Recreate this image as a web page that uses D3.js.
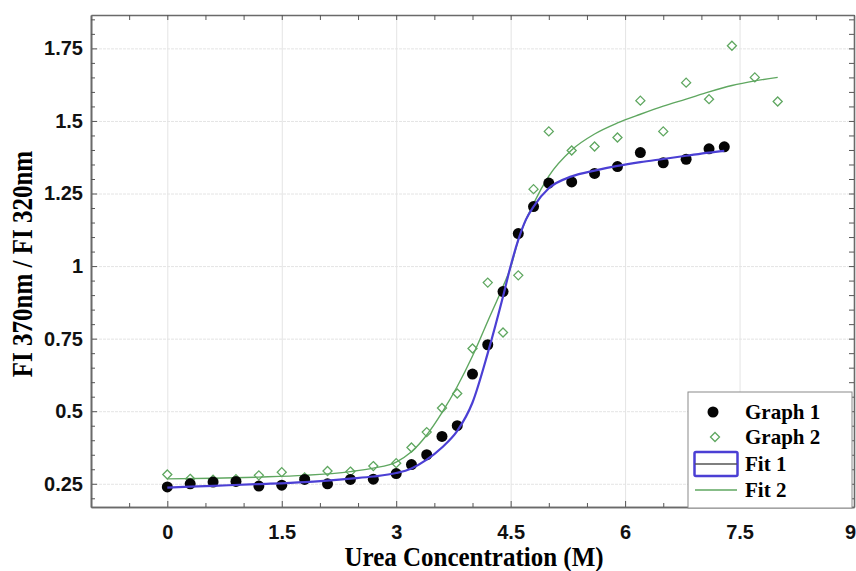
<!DOCTYPE html>
<html>
<head>
<meta charset="utf-8">
<script src="https://cdn.jsdelivr.net/npm/d3@7"></script>
<style>
  body { margin: 0; background: #fff; }
  svg { display: block; font-family: "Liberation Serif", "Times New Roman", serif; }
  .tick text { font-weight: bold; font-size: 20px; fill: #111; }
</style>
</head>
<body>
<div class="chart"></div>
<script>
// urea concentration (M) for each data set
const graph1X = [0, 0.3, 0.6, 0.9, 1.2, 1.5, 1.8, 2.1, 2.4, 2.7, 3.0, 3.2, 3.4, 3.6, 3.8, 4.0, 4.2, 4.4, 4.6, 4.8, 5.0, 5.3, 5.6, 5.9, 6.2, 6.5, 6.8, 7.1, 7.3];
const graph1Y = [0.239, 0.250, 0.256, 0.258, 0.242, 0.245, 0.265, 0.250, 0.265, 0.266, 0.285, 0.316, 0.350, 0.413, 0.450, 0.628, 0.729, 0.912, 1.112, 1.205, 1.286, 1.290, 1.319, 1.343, 1.391, 1.356, 1.368, 1.404, 1.411];

const graph2X = [0, 0.3, 0.6, 0.9, 1.2, 1.5, 1.8, 2.1, 2.4, 2.7, 3.0, 3.2, 3.4, 3.6, 3.8, 4.0, 4.2, 4.4, 4.6, 4.8, 5.0, 5.3, 5.6, 5.9, 6.2, 6.5, 6.8, 7.1, 7.4, 7.7, 8.0];
const graph2Y = [0.282, 0.267, 0.264, 0.266, 0.279, 0.290, 0.272, 0.294, 0.292, 0.311, 0.321, 0.375, 0.428, 0.511, 0.561, 0.716, 0.943, 0.771, 0.968, 1.265, 1.464, 1.398, 1.412, 1.443, 1.570, 1.464, 1.632, 1.575, 1.759, 1.650, 1.567];

// fitted curves
const fit1X = [0, 0.6, 1.2, 1.8, 2.4, 2.7, 3.0, 3.2, 3.4, 3.6, 3.8, 4.0, 4.2, 4.4, 4.5, 4.6, 4.7, 4.8, 5.0, 5.3, 5.6, 5.9, 6.2, 6.5, 6.8, 7.1, 7.3];
const fit1Y = [0.237, 0.243, 0.249, 0.256, 0.268, 0.275, 0.287, 0.303, 0.333, 0.375, 0.432, 0.53, 0.70, 0.895, 1.00, 1.09, 1.16, 1.205, 1.268, 1.309, 1.329, 1.345, 1.358, 1.369, 1.380, 1.391, 1.397];

const fit2X = [0, 0.6, 1.2, 1.8, 2.4, 2.7, 3.0, 3.2, 3.4, 3.6, 3.8, 4.0, 4.2, 4.4, 4.5, 4.6, 4.8, 5.0, 5.3, 5.6, 5.9, 6.2, 6.5, 6.8, 7.1, 7.4, 7.7, 8.0];
const fit2Y = [0.267, 0.269, 0.273, 0.279, 0.292, 0.304, 0.325, 0.360, 0.418, 0.495, 0.585, 0.69, 0.81, 0.93, 0.995, 1.09, 1.215, 1.31, 1.40, 1.455, 1.493, 1.523, 1.551, 1.575, 1.600, 1.622, 1.638, 1.650];

// axis ticks
const xMajor = [0, 1.5, 3, 4.5, 6, 7.5, 9];
const xMinor = [-0.5, 0.5, 1, 2, 2.5, 3.5, 4, 5, 5.5, 6.5, 7, 8, 8.5];
const xLabels = ["0", "1.5", "3", "4.5", "6", "7.5", "9"];
const yMajor = [0.25, 0.5, 0.75, 1, 1.25, 1.5, 1.75];
const yLabels = ["0.25", "0.5", "0.75", "1", "1.25", "1.5", "1.75"];
const legendNames = ["Graph 1", "Graph 2", "Fit 1", "Fit 2"];

const W = 856, H = 571;
const margin = {top: 15, right: 2, bottom: 64, left: 91};
const plotW = W - margin.left - margin.right;
const plotH = H - margin.top - margin.bottom;

const svg = d3.select(".chart").append("svg")
    .attr("width", W)
    .attr("height", H);

const x = d3.scaleLinear().domain([-1, 9]).range([margin.left, margin.left + plotW]);
const y = d3.scaleLinear().domain([0.17, 1.865]).range([margin.top + plotH, margin.top]);

const yMinor = d3.range(0.2, 1.86, 0.05).map(v => +v.toFixed(2)).filter(v => !yMajor.includes(v));

// grid
svg.append("g")
    .attr("transform", "translate(0," + (margin.top + plotH) + ")")
    .call(d3.axisBottom(x).tickValues(xMajor.slice(0, 6)).tickSize(-plotH).tickFormat(""))
    .call(g => g.select(".domain").remove())
    .call(g => g.selectAll("line").attr("stroke", "#e4e4e4").attr("stroke-width", 1));

svg.append("g")
    .attr("transform", "translate(" + margin.left + ",0)")
    .call(d3.axisLeft(y).tickValues(yMajor).tickSize(-plotW).tickFormat(""))
    .call(g => g.select(".domain").remove())
    .call(g => g.selectAll("line").attr("stroke", "#e4e4e4").attr("stroke-width", 1).attr("stroke-dasharray", "3,1"));

// axes, ticks point inwards on all four sides
function styleAxis(g) {
    g.select(".domain").attr("stroke", "#6a6a6a").attr("stroke-width", 1.6);
    g.selectAll(".tick line").attr("stroke", "#555").attr("stroke-width", 1);
}

svg.append("g")
    .attr("transform", "translate(0," + (margin.top + plotH) + ")")
    .call(d3.axisBottom(x).tickValues(xMajor).tickSize(-6).tickSizeOuter(0).tickPadding(32)
        .tickFormat((d, i) => xLabels[i]))
    .call(styleAxis)
    .call(g => g.selectAll(".tick text").attr("dy", "0"))
    .call(g => g.selectAll(".tick text").filter(d => d === 9).attr("dx", "-4"));

svg.append("g")
    .attr("transform", "translate(0," + (margin.top + plotH) + ")")
    .call(d3.axisBottom(x).tickValues(xMinor).tickSize(-4).tickSizeOuter(0).tickFormat(""))
    .call(styleAxis);

svg.append("g")
    .attr("transform", "translate(0," + margin.top + ")")
    .call(d3.axisTop(x).tickValues(xMajor.concat(xMinor)).tickSize(-5).tickSizeOuter(0).tickFormat(""))
    .call(styleAxis);

svg.append("g")
    .attr("transform", "translate(" + margin.left + ",0)")
    .call(d3.axisLeft(y).tickValues(yMajor).tickSize(-6).tickSizeOuter(0).tickPadding(8)
        .tickFormat((d, i) => yLabels[i]))
    .call(styleAxis);

svg.append("g")
    .attr("transform", "translate(" + margin.left + ",0)")
    .call(d3.axisLeft(y).tickValues(yMinor).tickSize(-4).tickSizeOuter(0).tickFormat(""))
    .call(styleAxis);

svg.append("g")
    .attr("transform", "translate(" + (margin.left + plotW) + ",0)")
    .call(d3.axisRight(y).tickValues(yMajor.concat(yMinor)).tickSize(-5).tickSizeOuter(0).tickFormat(""))
    .call(styleAxis);

// axis titles (the source picture is a little stretched across the text)
svg.append("text")
    .attr("transform", "translate(474,566) scale(1,1.05)")
    .attr("text-anchor", "middle")
    .style("font-weight", "bold")
    .style("font-size", "25px")
    .text("Urea Concentration (M)");

svg.append("text")
    .attr("transform", "translate(32,264) scale(1.15,1) rotate(-90)")
    .attr("text-anchor", "middle")
    .style("font-weight", "bold")
    .style("font-size", "25px")
    .text("FI 370nm / FI 320nm");

// fits
const line = d3.line()
    .x(d => x(d[0]))
    .y(d => y(d[1]))
    .curve(d3.curveMonotoneX);

const fit1 = fit1X.map((v, i) => [v, fit1Y[i]]);
const fit2 = fit2X.map((v, i) => [v, fit2Y[i]]);
const blue = "#4b3fd4", green = "#5fa760";

// points
const g1 = graph1X.map((v, i) => [v, graph1Y[i]]);
const g2 = graph2X.map((v, i) => [v, graph2Y[i]]);

const diamond = d3.symbol().type(d3.symbolDiamond2).size(52);

svg.append("g").selectAll("path")
    .data(g2)
    .enter().append("path")
    .attr("d", diamond)
    .attr("transform", d => "translate(" + x(d[0]) + "," + y(d[1]) + ")")
    .attr("fill", "#fff")
    .attr("stroke", green)
    .attr("stroke-width", 1.3);

svg.append("path")
    .datum(fit2)
    .attr("fill", "none")
    .attr("stroke", green)
    .attr("stroke-width", 1.4)
    .attr("d", line);

svg.append("g").selectAll("circle")
    .data(g1)
    .enter().append("circle")
    .attr("cx", d => x(d[0]))
    .attr("cy", d => y(d[1]))
    .attr("r", 5.5)
    .attr("fill", "#050505");

svg.append("path")
    .datum(fit1)
    .attr("fill", "none")
    .attr("stroke", blue)
    .attr("stroke-width", 2.2)
    .attr("d", line);

// legend
const lg = svg.append("g");
lg.append("rect")
    .attr("x", 688).attr("y", 392)
    .attr("width", 164).attr("height", 116)
    .attr("fill", "#fff")
    .attr("stroke", "#8a8a8a")
    .attr("stroke-width", 1);

const rowY = [412, 437, 464, 490];
lg.selectAll("text")
    .data(legendNames)
    .enter().append("text")
    .attr("x", 745)
    .attr("y", (d, i) => rowY[i])
    .attr("dy", "0.35em")
    .style("font-weight", "bold")
    .style("font-size", "21px")
    .text(d => d);

lg.append("circle").attr("cx", 713).attr("cy", rowY[0]).attr("r", 5.5).attr("fill", "#050505");
lg.append("path")
    .attr("d", diamond)
    .attr("transform", "translate(715," + rowY[1] + ")")
    .attr("fill", "#fff").attr("stroke", green).attr("stroke-width", 1.3);
lg.append("rect")
    .attr("x", 694.5).attr("y", rowY[2] - 12)
    .attr("width", 43).attr("height", 24)
    .attr("fill", "none").attr("stroke", blue).attr("stroke-width", 2.5).attr("rx", 1.5);
lg.append("line")
    .attr("x1", 695).attr("x2", 737).attr("y1", rowY[2]).attr("y2", rowY[2])
    .attr("stroke", "#555").attr("stroke-width", 1.5);
lg.append("line")
    .attr("x1", 695).attr("x2", 737).attr("y1", rowY[3]).attr("y2", rowY[3])
    .attr("stroke", green).attr("stroke-width", 1.5);
</script>
</body>
</html>
